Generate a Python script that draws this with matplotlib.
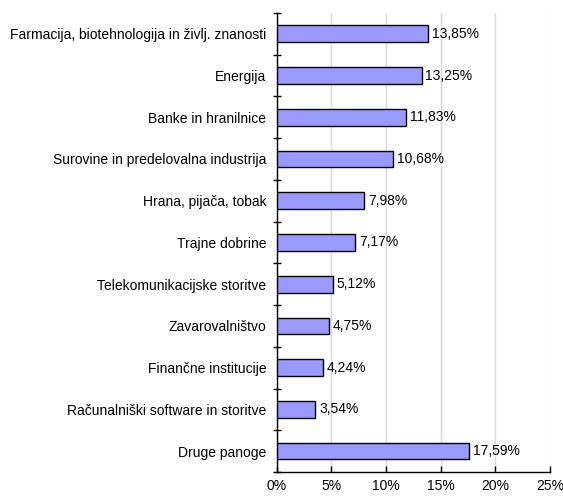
import numpy as np
import matplotlib.pyplot as plt

plt.rcParams['font.family'] = ['Liberation Sans', 'DejaVu Sans']

categories = [
    'Farmacija, biotehnologija in življ. znanosti',
    'Energija',
    'Banke in hranilnice',
    'Surovine in predelovalna industrija',
    'Hrana, pijača, tobak',
    'Trajne dobrine',
    'Telekomunikacijske storitve',
    'Zavarovalništvo',
    'Finančne institucije',
    'Računalniški software in storitve',
    'Druge panoge',
]
values = [13.85, 13.25, 11.83, 10.68, 7.98, 7.17, 5.12, 4.75, 4.24, 3.54, 17.59]
xticks = [0, 5, 10, 15, 20, 25]

fig = plt.figure(figsize=(5.63, 4.97), dpi=100)
ax = fig.add_axes([0.4915, 0.0503, 0.4855, 0.9237])

y = np.arange(len(categories))
ax.barh(y, values, height=0.4, color='#9999FF', edgecolor='black', linewidth=1.0, zorder=3)

for yi, v in zip(y, values):
    ax.text(v + 0.35, yi, f'{v:.2f}%'.replace('.', ','), va='center', ha='left',
            fontsize=10, zorder=4)

ax.set_xlim(0, 25)
ax.set_ylim(len(categories) - 0.5, -0.5)
ax.set_xticks(xticks)
ax.set_xticklabels([f'{t}%' for t in xticks], fontsize=10)
ax.set_yticks(y)
ax.set_yticklabels(categories, fontsize=10)
ax.tick_params(axis='y', length=0, pad=7.5)
ax.set_yticks(np.arange(len(categories) + 1) - 0.5, minor=True)
ax.tick_params(axis='y', which='minor', direction='inout', length=6, width=1)
ax.tick_params(axis='x', direction='in', length=4, width=1, pad=5)

ax.grid(axis='x', color='#D9D9D9', linewidth=1, zorder=0)
ax.spines['top'].set_visible(False)
ax.spines['right'].set_visible(False)
ax.spines['left'].set_linewidth(1)
ax.spines['bottom'].set_linewidth(1)

fig.savefig('out.png', dpi=100)
